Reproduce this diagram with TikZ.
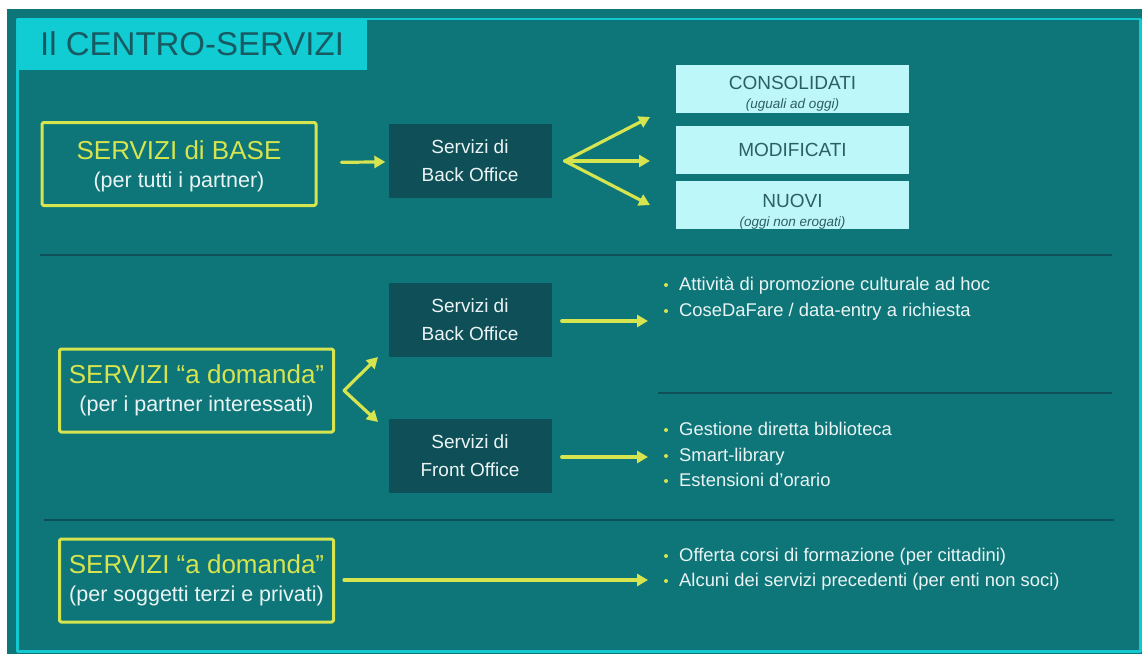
\documentclass[tikz,border=0pt]{standalone}
\usepackage{fontspec}
\setmainfont{Liberation Sans}
\usetikzlibrary{positioning,arrows.meta}
\definecolor{bgteal}{HTML}{0E7678}
\definecolor{framecyan}{HTML}{14C8CF}
\definecolor{tabcyan}{HTML}{12CCD3}
\definecolor{titletext}{HTML}{175A62}
\definecolor{darkbox}{HTML}{0F4F57}
\definecolor{lime}{HTML}{D5E44F}
\definecolor{lightbox}{HTML}{BEF7FA}
\definecolor{boxtext}{HTML}{2C5E66}
\definecolor{txtwhite}{HTML}{EAF4F4}
\newcommand{\fsz}[2]{\fontsize{#1}{#2}\selectfont}
\begin{document}
\begin{tikzpicture}[x=1pt, y=-1pt, line join=round, line cap=round, >={Triangle[length=11pt,width=12pt]},
	basebox/.style={draw=lime, line width=3pt, rounded corners=1.5pt, minimum width=274pt, minimum height=83pt, inner sep=0pt, align=center, text=txtwhite, font=\fsz{21.5}{28}},
	officebox/.style={fill=darkbox, minimum width=163pt, minimum height=74pt, inner sep=0pt, align=center, text=txtwhite, font=\fsz{19}{28}},
	kindbox/.style={fill=lightbox, minimum width=233pt, minimum height=48pt, inner sep=0pt, align=center, text=boxtext, font=\fsz{19}{19}},
	link/.style={draw=lime, line width=3.2pt, ->},
	sepline/.style={draw=darkbox, line width=2.8pt, line cap=butt},
	item/.style={anchor=base west, inner sep=0pt, text=txtwhite, font=\fsz{18.4}{20}}]
	\useasboundingbox (0,0) rectangle (1142,654);
	\fill[white] (0,0) rectangle (1142,654);
	\fill[bgteal] (7,9) rectangle (1142,654);
	\draw[framecyan, line width=2.5pt] (17.5,19) rectangle (1140.5,651.5);
	\fill[tabcyan] (17,18) rectangle (367,70);
	\node[anchor=base west, inner sep=0pt, text=titletext, font=\fsz{33}{36}] (title) at (40,55) {Il CENTRO-SERVIZI};
	% servizi di base
	\node[basebox] (base) at (179,164) {\rule{0pt}{24pt}{\fsz{26}{28}\color{lime}SERVIZI di BASE}\\(per tutti i partner)};
	\node[officebox] (bo1) at (470,161) {Servizi di\\Back Office};
	\node[kindbox] (kind1) at (792.5,89) {\rule{0pt}{22pt}CONSOLIDATI\\{\fsz{13.5}{20}\itshape(uguali ad oggi)}};
	\node[kindbox] (kind2) at (792.5,150) {MODIFICATI};
	\node[kindbox] (kind3) at (792.5,205) {\rule{0pt}{27pt}NUOVI\\{\fsz{13.5}{17}\itshape(oggi non erogati)}};
	\draw[link, shorten <=24pt, shorten >=3pt] (base) -- (bo1);
	\coordinate (v1) at ([xshift=13pt]bo1.east);
	\foreach \y [count=\i] in {117,161,205}{
		\coordinate (t\i) at (650,\y);
		\draw[link] (v1) -- (t\i);
	}
	\draw[sepline] (40,255) -- (1112,255);
	% servizi a domanda, partner
	\node[basebox] (dom1) at (196.5,390.5) {{\fsz{26}{28}\color{lime}SERVIZI “a domanda”}\\(per i partner interessati)};
	\node[officebox] (bo2) at (470,320) {Servizi di\\Back Office};
	\node[officebox] (fo) at (470,456) {Servizi di\\Front Office};
	\coordinate (v2) at ([xshift=9pt]dom1.east);
	\coordinate (t4) at (378,357);
	\coordinate (t5) at (378,422);
	\draw[link] (v2) -- (t4);
	\draw[link] (v2) -- (t5);
	\coordinate (t6) at (648,321);
	\coordinate (t7) at (648,457);
	\draw[link, shorten <=10pt] (bo2.east |- t6) -- (t6);
	\draw[link, shorten <=10pt] (fo.east |- t7) -- (t7);
	\draw[sepline] (658,393) -- (1112,393);
	\draw[sepline] (44,520) -- (1114,520);
	% servizi a domanda, terzi
	\node[basebox] (dom2) at (196.5,580.5) {{\fsz{26}{28}\color{lime}SERVIZI “a domanda”}\\(per soggetti terzi e privati)};
	\coordinate (t8) at (648,580);
	\draw[link, shorten <=9pt] (dom2.east |- t8) -- (t8);
	% elenchi
	\foreach \y/\t [count=\i] in {284/{Attività di promozione culturale ad hoc}, 310/{CoseDaFare / data-entry a richiesta},
		429/{Gestione diretta biblioteca}, 455/{Smart-library}, 480/{Estensioni d’orario},
		555/{Offerta corsi di formazione (per cittadini)}, 580/{Alcuni dei servizi precedenti (per enti non soci)}}{
		\fill[lime] (666,\y+1) circle (2pt);
		\node[item] (it\i) at (679,\y+6) {\t};
	}
\end{tikzpicture}
\end{document}
